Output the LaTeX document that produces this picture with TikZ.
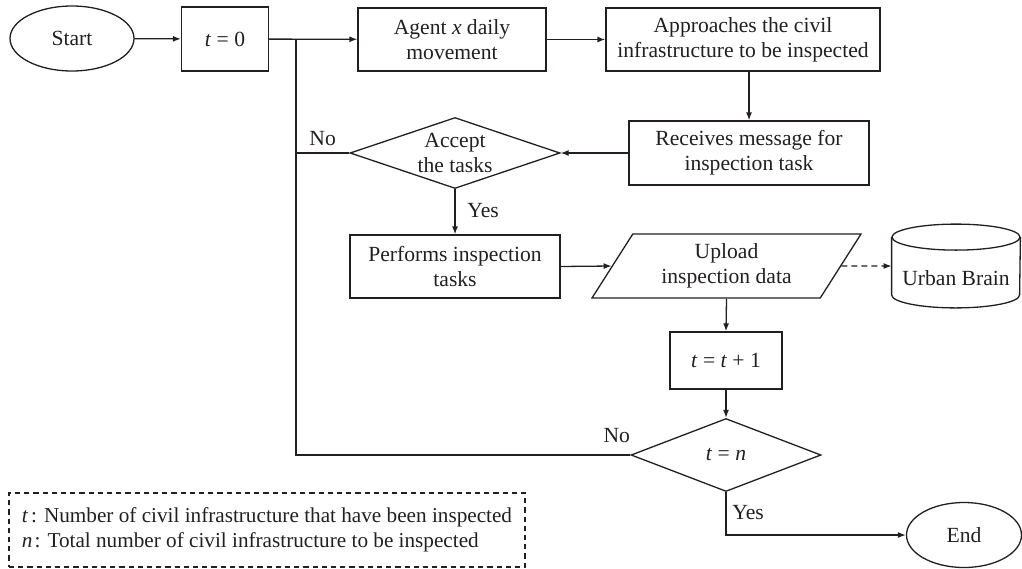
\documentclass[tikz,border=0pt]{standalone}
\usepackage{fontspec}
\setmainfont{Liberation Serif}
\usetikzlibrary{shapes.geometric,arrows.meta,calc}
\definecolor{ink}{HTML}{231F20}
\begin{document}
\begin{tikzpicture}[x=0.5pt,y=-0.5pt,
  every node/.style={font=\fontsize{10.8}{12.5}\selectfont, text=ink},
  line/.style={draw=ink, line width=0.65pt},
  arr/.style={line, -{Latex[length=4pt,width=3pt]}},
  proc/.style={draw=ink, line width=0.65pt, rectangle, align=center, inner sep=1pt},
  term/.style={draw=ink, line width=0.65pt, ellipse, inner sep=0pt},
  decision/.style={draw=ink, line width=0.65pt, diamond, inner sep=0pt},
  io/.style={draw=ink, line width=0.65pt, trapezium, trapezium left angle=50,
    trapezium right angle=130, trapezium stretches body=true, align=center, inner sep=1pt},
  note/.style={draw=ink, line width=0.6pt, dash pattern=on 2.6pt off 2pt, rectangle,
    align=left, inner sep=0pt, font=\fontsize{10.6}{12.5}\selectfont}
]
\useasboundingbox (0,0) rectangle (1022,568);

% process steps
\node[term, minimum width=62pt, minimum height=32.5pt] (start) at (72,38.5) {Start};
\node[proc, minimum width=43.5pt, minimum height=32pt] (t0) at (225,39) {\textit{t} = 0};
\node[proc, minimum width=94pt, minimum height=31.5pt] (agent) at (452,39.5) {Agent \textit{x} daily\\movement};
\node[proc, minimum width=137pt, minimum height=31.5pt] (appr) at (743,39.5) {Approaches the civil\\infrastructure to be inspected};
\node[proc, minimum width=120pt, minimum height=32pt] (recv) at (749,153) {Receives message for\\inspection task};
\node[decision, minimum width=105pt, minimum height=35.5pt,
  label={[align=center, inner sep=0pt]center:Accept\\the tasks}] (accept) at (455,153) {};
\node[proc, minimum width=105pt, minimum height=31.5pt] (perf) at (455,266.5) {Performs inspection\\tasks};
\node[io, minimum width=134.5pt, minimum height=32pt] (upload) at (726.5,266) {Upload\\inspection data};
\node[minimum width=64pt, minimum height=41.5pt, inner sep=0pt,
  label={[yshift=-6pt]center:Urban Brain}] (urban) at (956,266) {};
\node[proc, minimum width=56pt, minimum height=28.5pt] (tt1) at (726,360.5) {\textit{t} = \textit{t} + 1};
\node[decision, minimum width=95pt, minimum height=36.5pt,
  label={[inner sep=0pt]center:\textit{t} = \textit{n}}] (tn) at (726,455) {};
\node[term, minimum width=57.5pt, minimum height=32.5pt] (end) at (964,535) {End};

% database drum
\draw[line] ($(urban.north)+(0,13)$) ellipse[x radius=32pt, y radius=6.5pt];
\draw[line] ($(urban.north west)+(0,13)$) -- ($(urban.south west)+(0,-13)$)
  arc[start angle=180, end angle=360, x radius=32pt, y radius=6.5pt]
  -- ($(urban.north east)+(0,13)$);

% legend
\node[note, minimum width=258pt, minimum height=37pt] (legend) at (267,530)
  {\textit{t}\hspace{1.4pt}: Number of civil infrastructure that have been inspected\\
   \textit{n}\hspace{1pt}: Total number of civil infrastructure to be inspected};

% connectors
\coordinate (J) at (296,39);
\draw[arr] (start) -- (t0);
\draw[arr] (t0) -- (agent);
\draw[arr] (agent) -- (appr);
\draw[arr] (appr.south -| recv.north) -- (recv.north);
\draw[arr] (recv.west) -- (accept.east);
\draw[line] (accept.west) -- (accept.west -| J);
\draw[arr] (accept.south) -- (perf.north);
\draw[arr] (perf.east) -- (upload.west);
\draw[arr, dash pattern=on 3pt off 2pt] (upload.east) -- (urban.west);
\draw[arr] (upload.south) -- (tt1.north);
\draw[arr] (tt1.south) -- (tn.north);
\draw[line] (tn.west) -- (tn.west -| J) -- (J);
\draw[arr] (tn.south) |- (end.west);

% branch labels
\node[anchor=base, inner sep=0pt] (no1) at ($(accept.west)!0.5!(accept.west -| J)+(0,-8)$) {No};
\node[anchor=base west, inner sep=0pt] (yes1) at ($(accept.south)+(12,28)$) {Yes};
\node[anchor=base east, inner sep=0pt] (no2) at ($(tn.west)+(0,-13)$) {No};
\node[anchor=base west, inner sep=0pt] (yes2) at ($(tn.south)+(6,27)$) {Yes};
\end{tikzpicture}
\end{document}
